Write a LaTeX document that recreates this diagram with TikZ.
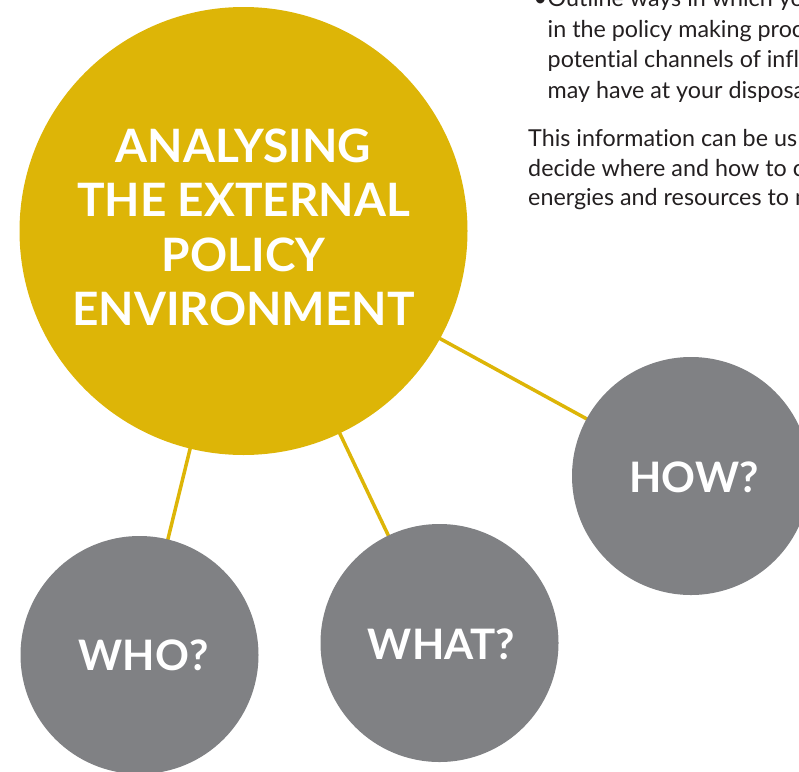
\documentclass[tikz,border=0pt]{standalone}
\usepackage{fontspec}
\setmainfont{Lato}[Ligatures=NoCommon]
\usetikzlibrary{backgrounds}
\definecolor{gold}{HTML}{DDB507}
\definecolor{slate}{HTML}{808184}
\definecolor{ink}{HTML}{231F20}
\begin{document}
\begin{tikzpicture}[x=1pt,y=-1pt,
  hub/.style={circle, fill=gold, inner sep=0pt, minimum size=448pt},
  hubtext/.style={align=center, text=white, inner sep=0pt,
    font=\bfseries\fontsize{46}{54.3}\selectfont},
  spoke/.style={circle, fill=slate, inner sep=0pt, minimum size=238pt},
  question/.style={text=white, inner sep=0pt,
    font=\bfseries\fontsize{42}{50}\selectfont},
  link/.style={draw=gold, line width=3.5pt},
  body/.style={anchor=base west, inner sep=0pt, text=ink,
    font=\fontsize{23.3}{30.3}\selectfont}]
\useasboundingbox (0,0) rectangle (799,771);

% central topic and its three questions
\node[hub] (main) at (243.5,231) {};
\node[hubtext] (title) at (243.5,227.5)
  {ANALYSING\\THE EXTERNAL\\POLICY\\ENVIRONMENT};
\node[spoke] (how) at (691,476) {};
\node[spoke] (what) at (439.5,643) {};
\node[spoke] (who) at (139.5,655) {};
\node[question] (howq) at (694,477) {HOW?};
\node[question] (whatq) at (441.5,644) {WHAT?};
\node[question] (whoq) at (143.5,655.5) {WHO?};

% spokes run centre to centre, hidden behind the discs
\begin{pgfonlayer}{background}
  \draw[link] (main.center) -- (how.center);
  \draw[link] (main.center) -- (what.center);
  \draw[link] (main.center) -- (who.center);
\end{pgfonlayer}

% running text in the top right corner (bullet hangs in the margin)
\node[body] (bullet) at (533.5,6.5) {•};
\node[body] (b1) at (547.5,6.5) {Outline ways in which yo};
\node[body] (b2) at (547.5,37) {in the policy making proc};
\node[body] (b3) at (547.5,67.5) {potential channels of influ};
\node[body] (b4) at (547.5,98) {may have at your disposa};
\node[body] (b5) at (528,146.5) {This information can be us};
\node[body] (b6) at (528,176) {decide where and how to c};
\node[body] (b7) at (528,205.5) {energies and resources to m};
\end{tikzpicture}
\end{document}
